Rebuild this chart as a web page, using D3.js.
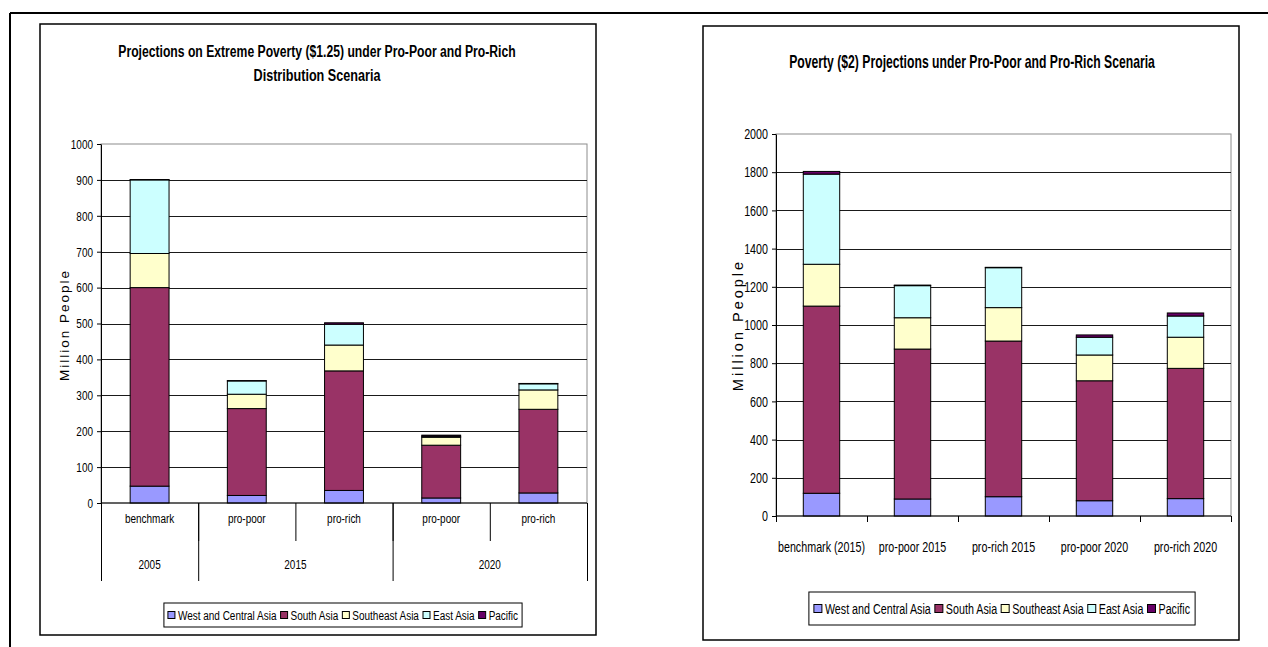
<!DOCTYPE html>
<html>
<head>
<meta charset="utf-8">
<script src="https://cdn.jsdelivr.net/npm/d3@7"></script>
<style>
  body { margin: 0; background: #fff; }
  text { font-family: "Liberation Sans", Arial, sans-serif; fill: #000; }
</style>
</head>
<body>
<svg id="chart" width="1268" height="647"></svg>
<script>
// Regions (stack order, bottom to top)
const regions = ["West and Central Asia", "South Asia", "Southeast Asia", "East Asia", "Pacific"];
const regionColors = ["#9999FF", "#993366", "#FFFFCC", "#CCFFFF", "#660066"];

// Extreme poverty ($1.25), million people
const extremeScenarios = ["benchmark", "pro-poor", "pro-rich", "pro-poor", "pro-rich"];
const extremeYears = ["2005", "2015", "2020"];
const extremeYearSpans = [1, 2, 2];
const extremeWestCentral = [47, 21, 35, 14, 28];
const extremeSouth = [553, 242, 333, 147, 233];
const extremeSoutheast = [95, 40, 72, 22, 54];
const extremeEast = [205, 37, 58, 3, 17];
const extremePacific = [1, 1, 4, 3, 1];
const extremeTicks = [0, 100, 200, 300, 400, 500, 600, 700, 800, 900, 1000];

// Poverty ($2), million people
const povertyScenarios = ["benchmark (2015)", "pro-poor 2015", "pro-rich 2015", "pro-poor 2020", "pro-rich 2020"];
const povertyWestCentral = [119, 89, 101, 80, 91];
const povertySouth = [980, 785, 815, 628, 682];
const povertySoutheast = [219, 164, 175, 135, 163];
const povertyEast = [472, 168, 209, 93, 111];
const povertyPacific = [14, 3, 2, 12, 16];
const povertyTicks = [0, 200, 400, 600, 800, 1000, 1200, 1400, 1600, 1800, 2000];

const SX = 0.74; // horizontal squeeze of all lettering

const svg = d3.select("#chart");

// squeeze text horizontally around its own anchor
function squash(sel, sx) {
  sel.each(function () {
    const t = d3.select(this);
    const x = +t.attr("x") || 0;
    t.attr("x", x / sx).attr("transform", `scale(${sx},1)`);
  });
}

// page frame
svg.append("line").attr("x1", 10).attr("y1", 13).attr("x2", 1268).attr("y2", 13)
  .attr("stroke", "#000").attr("stroke-width", 2);
svg.append("line").attr("x1", 10).attr("y1", 13).attr("x2", 10).attr("y2", 647)
  .attr("stroke", "#000").attr("stroke-width", 2);

function drawChart(cfg) {
  const g = svg.append("g");
  const b = cfg.box;
  g.append("rect").attr("x", b.x).attr("y", b.y).attr("width", b.w).attr("height", b.h)
    .attr("fill", "#fff").attr("stroke", "#000").attr("stroke-width", 1.5);

  // title lines, each fitted to its width
  cfg.title.forEach(t => {
    const txt = g.append("text").attr("x", cfg.titleX).attr("y", t.y)
      .attr("text-anchor", "middle").attr("font-weight", "bold")
      .attr("font-size", cfg.titleSize).text(t.text);
    const len = txt.node().getComputedTextLength();
    squash(txt, t.width / len);
  });

  const p = cfg.plot;
  const n = cfg.categories.length;
  const x = d3.scaleBand().domain(d3.range(n)).range([p.x0, p.x1])
    .paddingInner(0.6).paddingOuter(0.3);
  const xEdge = d3.scaleLinear().domain([0, n]).range([p.x0, p.x1]);
  const y = d3.scaleLinear().domain([0, cfg.ticks[cfg.ticks.length - 1]]).range([p.yBottom, p.yTop]);

  // plot area border
  g.append("rect").attr("x", p.x0).attr("y", p.yTop)
    .attr("width", p.x1 - p.x0).attr("height", p.yBottom - p.yTop)
    .attr("fill", "none").attr("stroke", "#8c8c8c").attr("stroke-width", 1);

  // gridlines
  g.append("g").selectAll("line").data(cfg.ticks.slice(1, -1)).join("line")
    .attr("x1", p.x0).attr("x2", p.x1)
    .attr("y1", d => Math.round(y(d)) + 0.5).attr("y2", d => Math.round(y(d)) + 0.5)
    .attr("stroke", "#1a1a1a").attr("stroke-width", 1);

  // stacked bars
  const rows = d3.range(n).map(i => {
    const r = { i };
    regions.forEach((k, j) => { r[k] = cfg.series[j][i]; });
    return r;
  });
  const stacked = d3.stack().keys(regions)(rows);
  g.append("g").selectAll("g").data(stacked).join("g")
    .attr("fill", (d, j) => regionColors[j])
    .selectAll("rect").data(d => d).join("rect")
    .attr("x", d => x(d.data.i)).attr("width", x.bandwidth())
    .attr("y", d => y(d[1])).attr("height", d => y(d[0]) - y(d[1]))
    .attr("stroke", "#000").attr("stroke-width", 1);

  // y axis
  const ya = g.append("g").attr("transform", `translate(${p.x0},0)`)
    .call(d3.axisLeft(y).tickValues(cfg.ticks).tickFormat(d3.format("d"))
      .tickSizeInner(4).tickSizeOuter(0).tickPadding(4));
  ya.select(".domain").attr("stroke", "#000");
  ya.selectAll(".tick line").attr("stroke", "#000");
  ya.selectAll("text").attr("font-size", cfg.tickSize).attr("font-family", null);
  squash(ya.selectAll("text"), SX);

  // baseline
  g.append("line").attr("x1", p.x0).attr("x2", p.x1)
    .attr("y1", y(0)).attr("y2", y(0)).attr("stroke", "#000");

  // category boundary ticks
  const xt = g.append("g").attr("transform", `translate(0,${y(0)})`)
    .call(d3.axisBottom(xEdge).tickValues(d3.range(n + 1)).tickFormat("")
      .tickSizeInner(cfg.innerTick).tickSizeOuter(0));
  xt.select(".domain").remove();
  xt.selectAll(".tick line").attr("stroke", "#000");

  // category labels
  const xl = g.append("g").attr("transform", `translate(0,${cfg.catY})`)
    .call(d3.axisBottom(x).tickFormat(i => cfg.categories[i]).tickSize(0).tickPadding(0));
  xl.select(".domain").remove();
  xl.selectAll("text").attr("font-size", cfg.catSize).attr("font-family", null).attr("dy", "0.32em");
  squash(xl.selectAll("text"), SX);

  // second label row (grouped years)
  if (cfg.groups) {
    const edges = [0];
    cfg.groupSpans.forEach(s => edges.push(edges[edges.length - 1] + s));
    g.append("g").attr("transform", `translate(0,${y(0)})`)
      .call(d3.axisBottom(xEdge).tickValues(edges).tickFormat("").tickSizeInner(cfg.outerTick).tickSizeOuter(0))
      .call(s => s.select(".domain").remove())
      .selectAll(".tick line").attr("stroke", "#000");
    const gt = g.append("g").selectAll("text").data(cfg.groups).join("text")
      .attr("x", (d, i) => xEdge((edges[i] + edges[i + 1]) / 2))
      .attr("y", cfg.groupY).attr("dy", "0.32em")
      .attr("text-anchor", "middle").attr("font-size", cfg.catSize).text(d => d);
    squash(gt, SX);
  }

  // y axis title
  g.append("text")
    .attr("transform", `translate(${cfg.yLabel.x},${cfg.yLabel.y}) rotate(-90)`)
    .attr("text-anchor", "middle").attr("dy", "0.32em")
    .attr("font-size", cfg.yLabel.size).attr("letter-spacing", cfg.yLabel.spacing)
    .text("Million People");

  // legend
  const L = cfg.legend;
  const lg = g.append("g");
  const items = lg.selectAll("g").data(regions).join("g");
  items.append("rect").attr("width", L.sq).attr("height", L.sq)
    .attr("fill", (d, j) => regionColors[j]).attr("stroke", "#000").attr("stroke-width", 1);
  const lt = items.append("text").attr("font-size", L.size).attr("dy", "0.35em").text(d => d);
  let cx = 0;
  const widths = [];
  lt.each(function () { widths.push(this.getComputedTextLength() * SX); });
  items.each(function (d, j) {
    const it = d3.select(this);
    it.select("rect").attr("x", cx).attr("y", -L.sq / 2);
    const t = it.select("text").attr("x", cx + L.sq + 3).attr("y", 0);
    squash(t, SX);
    cx += L.sq + 3 + widths[j] + L.gap;
  });
  const total = cx - L.gap;
  const lx = L.cx - total / 2;
  lg.insert("rect", ":first-child")
    .attr("x", L.cx - total / 2 - L.pad).attr("y", L.y0)
    .attr("width", total + 2 * L.pad).attr("height", L.y1 - L.y0)
    .attr("fill", "#fff").attr("stroke", "#000").attr("stroke-width", 1);
  items.attr("transform", `translate(${lx},${(L.y0 + L.y1) / 2})`);
}

drawChart({
  box: { x: 40, y: 24, w: 556, h: 611 },
  titleX: 317, titleSize: 17,
  title: [
    { text: "Projections on Extreme Poverty ($1.25) under Pro-Poor and Pro-Rich", y: 57, width: 398 },
    { text: "Distribution Scenaria", y: 81, width: 127 }
  ],
  plot: { x0: 101, x1: 587, yTop: 144, yBottom: 503 },
  categories: extremeScenarios,
  groups: extremeYears, groupSpans: extremeYearSpans,
  series: [extremeWestCentral, extremeSouth, extremeSoutheast, extremeEast, extremePacific],
  ticks: extremeTicks,
  tickSize: 13.5, catSize: 13.5, catY: 519, groupY: 565,
  innerTick: 38, outerTick: 78,
  yLabel: { x: 65, y: 325, size: 13.5, spacing: 2 },
  legend: { cx: 343, y0: 603, y1: 627, sq: 7, size: 13.5, gap: 4, pad: 4 }
});

drawChart({
  box: { x: 703, y: 26, w: 536, h: 614 },
  titleX: 972, titleSize: 18,
  title: [
    { text: "Poverty ($2) Projections under Pro-Poor and Pro-Rich Scenaria", y: 68, width: 366 }
  ],
  plot: { x0: 776, x1: 1231, yTop: 134, yBottom: 516 },
  categories: povertyScenarios,
  series: [povertyWestCentral, povertySouth, povertySoutheast, povertyEast, povertyPacific],
  ticks: povertyTicks,
  tickSize: 14.5, catSize: 14.5, catY: 547,
  innerTick: 6,
  yLabel: { x: 738, y: 325, size: 14.5, spacing: 3 },
  legend: { cx: 1002, y0: 592, y1: 625, sq: 8, size: 14.5, gap: 4, pad: 5 }
});
</script>
</body>
</html>
